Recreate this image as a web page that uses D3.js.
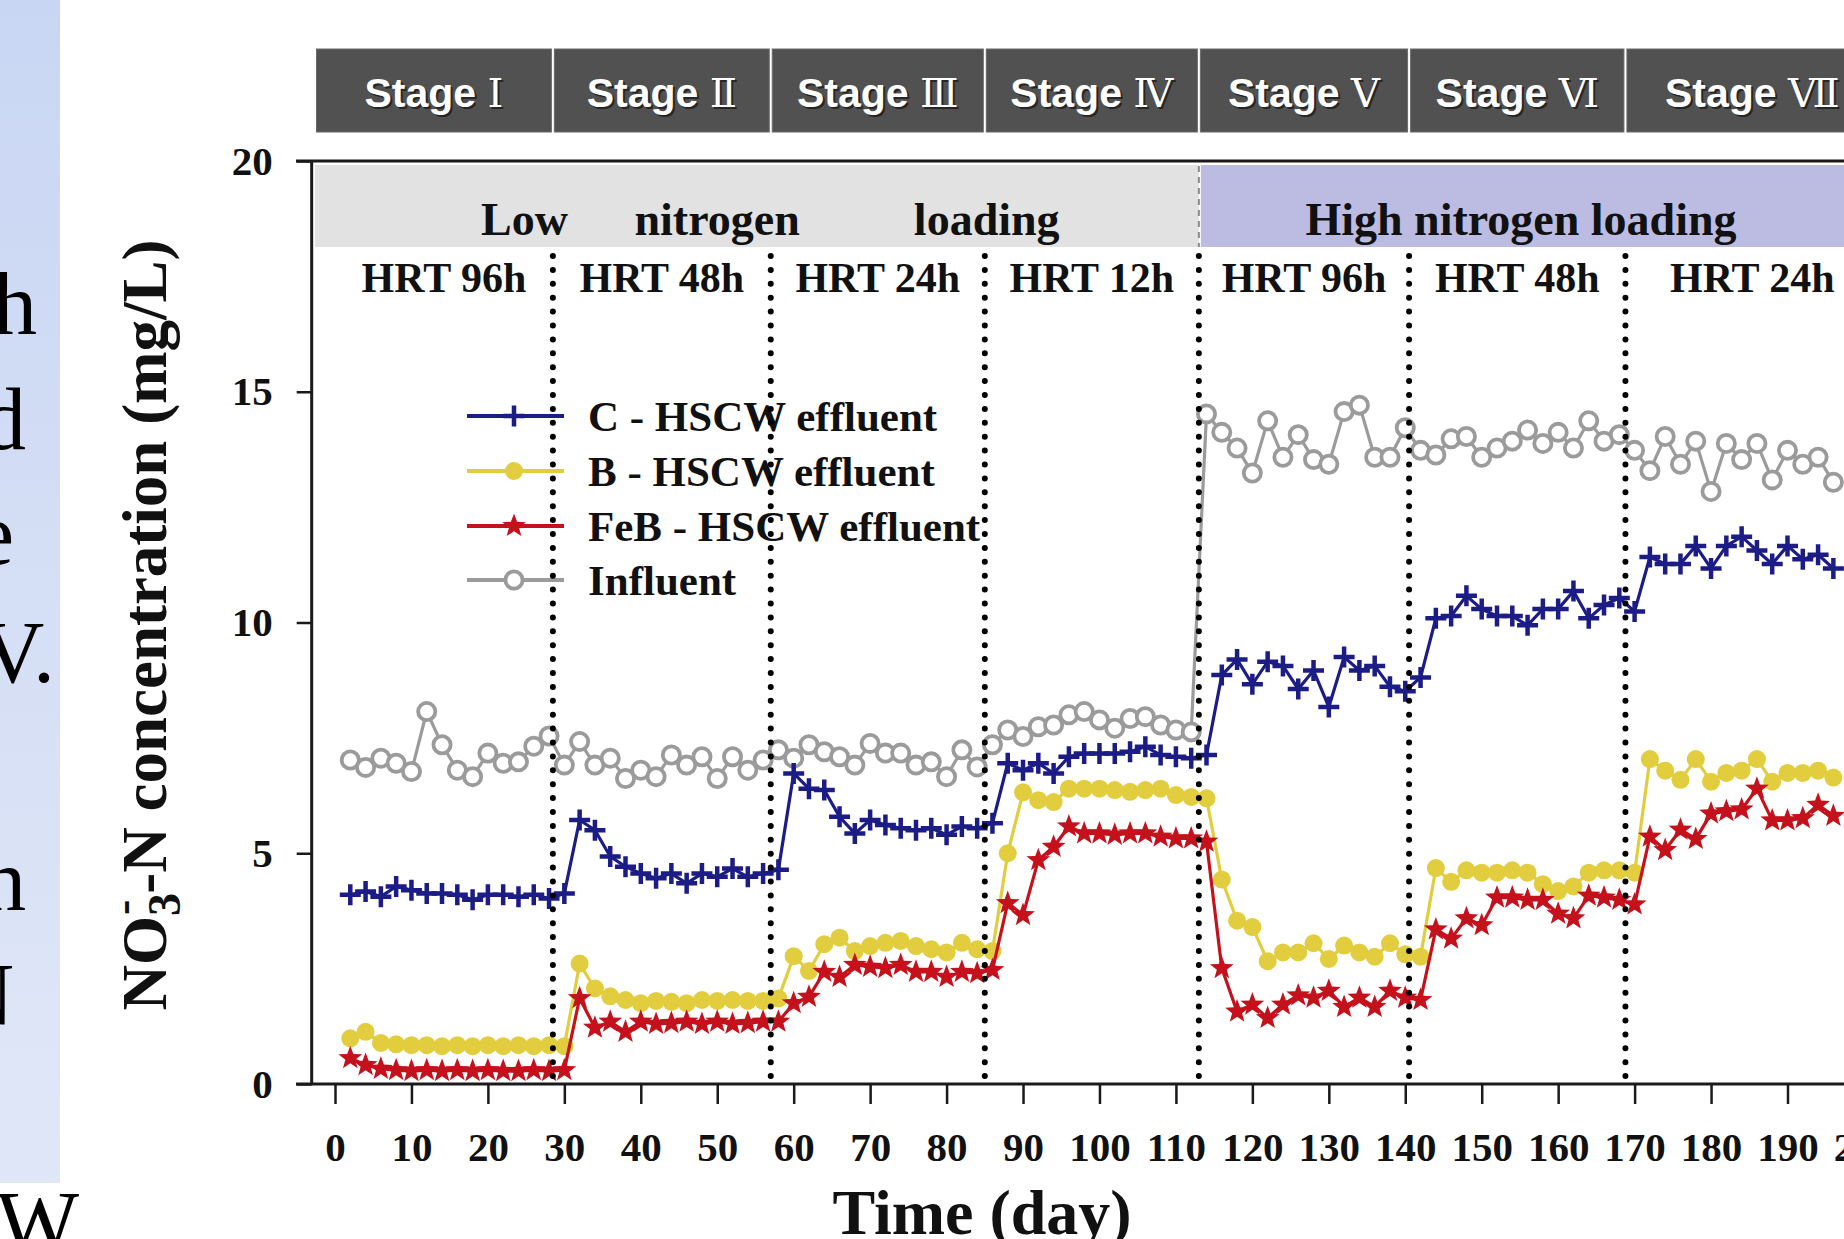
<!DOCTYPE html>
<html><head><meta charset="utf-8">
<script src="https://cdn.jsdelivr.net/npm/d3@7"></script>
<style>html,body{margin:0;padding:0;background:#fff;overflow:hidden}</style>
</head><body><svg id="c" width="1844" height="1239"></svg>
<script>
// ---------------- data ----------------
const days = [2,4,6,8,10,12,14,16,18,20,22,24,26,28,30,
  32,34,36,38,40,42,44,46,48,50,52,54,56,58,
  60,62,64,66,68,70,72,74,76,78,80,82,84,86,
  88,90,92,94,96,98,100,102,104,106,108,110,112,114,
  116,118,120,122,124,126,128,130,132,134,136,138,140,142,
  144,146,148,150,152,154,156,158,160,162,164,166,168,170,
  172,174,176,178,180,182,184,186,188,190,192,194,196];

const cEffluent = [4.10,4.17,4.06,4.28,4.20,4.13,4.13,4.10,3.99,4.10,4.10,4.06,4.10,4.02,4.13,
  5.72,5.50,4.93,4.71,4.56,4.46,4.56,4.35,4.56,4.49,4.67,4.49,4.56,4.64,
  6.73,6.40,6.37,5.79,5.43,5.72,5.61,5.54,5.50,5.54,5.40,5.58,5.54,5.65,
  6.95,6.80,6.95,6.73,7.09,7.16,7.16,7.16,7.20,7.31,7.13,7.09,7.06,7.13,
  8.86,9.20,8.66,9.15,9.06,8.56,8.96,8.17,9.25,8.96,9.06,8.61,8.51,8.81,
  10.09,10.14,10.58,10.29,10.14,10.14,9.94,10.29,10.29,10.68,10.09,10.38,10.53,10.24,
  11.42,11.27,11.27,11.66,11.17,11.66,11.86,11.56,11.27,11.66,11.37,11.47,11.17];

const bEffluent = [0.99,1.13,0.89,0.86,0.84,0.84,0.82,0.84,0.82,0.84,0.82,0.84,0.82,0.84,0.82,
  2.61,2.07,1.90,1.82,1.75,1.80,1.78,1.75,1.82,1.80,1.82,1.80,1.80,1.85,
  2.77,2.45,3.03,3.17,2.88,2.99,3.06,3.10,2.99,2.92,2.85,3.06,2.92,2.88,
  5.00,6.32,6.15,6.11,6.40,6.40,6.40,6.37,6.33,6.37,6.40,6.26,6.22,6.19,
  4.43,3.54,3.40,2.66,2.85,2.85,3.05,2.71,3.00,2.85,2.76,3.05,2.81,2.76,
  4.68,4.38,4.63,4.58,4.58,4.63,4.58,4.33,4.18,4.28,4.58,4.63,4.63,4.58,
  7.04,6.79,6.59,7.04,6.55,6.74,6.79,7.04,6.55,6.74,6.74,6.79,6.64];

const febEffluent = [0.56,0.41,0.33,0.30,0.28,0.30,0.28,0.30,0.28,0.30,0.28,0.28,0.30,0.28,0.30,
  1.86,1.22,1.35,1.13,1.35,1.30,1.32,1.35,1.30,1.35,1.30,1.32,1.35,1.35,
  1.75,1.89,2.43,2.32,2.58,2.54,2.51,2.58,2.43,2.43,2.32,2.43,2.40,2.47,
  3.92,3.66,4.85,5.14,5.58,5.43,5.43,5.40,5.43,5.43,5.36,5.32,5.32,5.25,
  2.51,1.57,1.72,1.43,1.72,1.92,1.87,2.02,1.67,1.87,1.67,2.02,1.87,1.82,
  3.35,3.15,3.59,3.44,4.04,4.04,3.99,3.99,3.69,3.59,4.08,4.04,3.99,3.89,
  5.36,5.07,5.51,5.31,5.86,5.91,5.95,6.40,5.71,5.71,5.76,6.05,5.81];

const influent = [7.02,6.86,7.06,6.95,6.77,8.07,7.35,6.80,6.66,7.17,6.95,6.98,7.32,7.54,6.91,
  7.42,6.91,7.06,6.62,6.80,6.66,7.13,6.91,7.09,6.62,7.09,6.80,7.02,7.24,
  7.06,7.35,7.20,7.09,6.91,7.38,7.17,7.17,6.91,6.98,6.66,7.24,6.87,7.35,
  7.67,7.53,7.74,7.78,8.00,8.07,7.89,7.71,7.92,7.96,7.78,7.67,7.63,
  14.52,14.12,13.78,13.24,14.37,13.58,14.07,13.53,13.43,14.57,14.71,13.58,13.58,14.22,
  13.73,13.63,13.98,14.03,13.58,13.78,13.93,14.17,13.88,14.12,13.78,14.37,13.93,14.07,
  13.73,13.29,14.03,13.43,13.93,12.84,13.88,13.53,13.88,13.09,13.73,13.43,13.58,13.04];

const stageNumerals = ["I","Ⅱ","Ⅲ","Ⅳ","Ⅴ","Ⅵ","Ⅶ"];
const stageBounds = [0, 28.5, 57, 85, 113, 140.5, 168.8, 202];
const hrtLabels = ["HRT 96h","HRT 48h","HRT 24h","HRT 12h","HRT 96h","HRT 48h","HRT 24h"];
const lowLoadingWords = ["Low","nitrogen","loading"];
const highLoadingLabel = "High nitrogen loading";
const xTicks = [0,10,20,30,40,50,60,70,80,90,100,110,120,130,140,150,160,170,180,190,200];
const yTicks = [0,5,10,15,20];
const seriesNames = ["C - HSCW effluent","B - HSCW effluent","FeB - HSCW effluent","Influent"];
const sideFragments = ["h","d","e","V.","h","N","W"];

// ---------------- layout ----------------
const W = 1844, H = 1239;
const svg = d3.select("#c");
const serif = "'Liberation Serif','Times New Roman',serif";
const sans = "'Liberation Sans',Arial,sans-serif";

const x = d3.scaleLinear().domain([0,190]).range([335,1787.5]);
const y = d3.scaleLinear().domain([0,20]).range([1084,161]);
const axisX = x(-3.05);

const colors = {c:"#1c1c86", b:"#e2cd3e", feb:"#c5111b", inf:"#9b9b9b"};

// left slide panel
const defs = svg.append("defs");
const g0 = defs.append("linearGradient").attr("id","side").attr("x1",0).attr("x2",0).attr("y1",0).attr("y2",1);
g0.append("stop").attr("offset","0").attr("stop-color","#c9d6f3");
g0.append("stop").attr("offset","1").attr("stop-color","#e0e7f7");
svg.append("rect").attr("x",0).attr("y",0).attr("width",60).attr("height",1183).attr("fill","url(#side)");
const sidePos = [[37,334],[26,449],[14,564],[55,682],[26,910],[14,1024],[79,1252]];
sideFragments.forEach((t,i)=>{
  svg.append("text").attr("x",sidePos[i][0]).attr("y",sidePos[i][1])
    .attr("text-anchor","end").attr("font-family",serif).attr("font-size",88)
    .attr("fill","#000").text(t);
});

// stage header
stageNumerals.forEach((n,i)=>{
  const x0 = i===0 ? 315 : x(stageBounds[i]);
  const x1 = x(stageBounds[i+1]);
  svg.append("rect").attr("x",x0+1.5).attr("y",49).attr("width",x1-x0-3).attr("height",83)
    .attr("fill","#515151").attr("stroke","#6a6a6a").attr("stroke-width",1);
  const cx = (x0+x1)/2;
  [["#262626",2,2],["#ffffff",0,0]].forEach(([col,dx,dy])=>{
    const t = svg.append("text").attr("x",cx+dx).attr("y",107+dy).attr("text-anchor","middle")
      .attr("fill",col);
    t.append("tspan").attr("font-family",sans).attr("font-weight","bold").attr("font-size",41).text("Stage ");
    t.append("tspan").attr("font-family","'DejaVu Serif','Liberation Serif',serif").attr("font-weight","normal")
      .attr("font-size",40).text(n);
  });
});

// loading bands
const xSplit = x(stageBounds[4]);
svg.append("rect").attr("x",315).attr("y",165).attr("width",xSplit-315).attr("height",82).attr("fill","#e2e2e2");
svg.append("rect").attr("x",xSplit+2).attr("y",165).attr("width",W-xSplit).attr("height",82).attr("fill","#bcbce2");
const lowFrac = [0.237,0.455,0.76];
lowLoadingWords.forEach((w,i)=>{
  svg.append("text").attr("x",315+(xSplit-315)*lowFrac[i]).attr("y",235).attr("text-anchor","middle")
    .attr("font-family",serif).attr("font-weight","bold").attr("font-size",46).attr("fill","#111").text(w);
});
svg.append("text").attr("x",1521).attr("y",235).attr("text-anchor","middle")
  .attr("font-family",serif).attr("font-weight","bold").attr("font-size",46).attr("fill","#111").text(highLoadingLabel);

// HRT labels
hrtLabels.forEach((t,i)=>{
  svg.append("text").attr("x",x((stageBounds[i]+stageBounds[i+1])/2)).attr("y",292).attr("text-anchor","middle")
    .attr("font-family",serif).attr("font-weight","bold").attr("font-size",42).attr("fill","#111").text(t);
});

// frame lines
svg.append("line").attr("x1",296).attr("x2",W).attr("y1",y(20)).attr("y2",y(20)).attr("stroke","#1a1a1a").attr("stroke-width",3);
svg.append("line").attr("x1",296).attr("x2",W).attr("y1",y(0)).attr("y2",y(0)).attr("stroke","#1a1a1a").attr("stroke-width",3);
svg.append("line").attr("x1",axisX).attr("x2",axisX).attr("y1",y(20)).attr("y2",y(0)).attr("stroke","#1a1a1a").attr("stroke-width",3);

// axes
const yAxis = svg.append("g").attr("transform",`translate(${axisX},0)`)
  .call(d3.axisLeft(y).tickValues(yTicks).tickSize(15).tickSizeOuter(0).tickPadding(24));
const xAxis = svg.append("g").attr("transform",`translate(0,${y(0)})`)
  .call(d3.axisBottom(x).tickValues(xTicks).tickSize(20).tickSizeOuter(0).tickPadding(28));
[yAxis,xAxis].forEach(a=>{
  a.select(".domain").remove();
  a.selectAll(".tick line").attr("stroke","#1a1a1a").attr("stroke-width",2.5);
  a.selectAll(".tick text").attr("font-family",serif).attr("font-weight","bold").attr("font-size",41).attr("fill","#111");
});

// markers
function plus(sel,col){ sel.append("path").attr("d","M-10.5,0H10.5M0,-10.5V10.5").attr("stroke",col).attr("stroke-width",4.5).attr("fill","none"); }
function dot(sel,col){ sel.append("circle").attr("r",9).attr("fill",col); }
const starPath = (()=>{ let p=""; for(let k=0;k<10;k++){ const r=k%2?5.2:12.5; const a=-Math.PI/2+k*Math.PI/5; p+=(k?"L":"M")+(r*Math.cos(a)).toFixed(2)+","+(r*Math.sin(a)).toFixed(2);} return p+"Z"; })();
function star(sel,col){ sel.append("path").attr("d",starPath).attr("fill",col); }
function ring(sel,col){ sel.append("circle").attr("r",8.6).attr("fill","#fff").attr("stroke",col).attr("stroke-width",3.8); }

const series = [
  {vals:influent, col:colors.inf, mk:ring},
  {vals:cEffluent, col:colors.c, mk:plus},
  {vals:bEffluent, col:colors.b, mk:dot},
  {vals:febEffluent, col:colors.feb, mk:star}
];
const line = d3.line().x((v,i)=>x(days[i])).y(v=>y(v));
series.forEach(s=>{
  svg.append("path").attr("d",line(s.vals)).attr("fill","none").attr("stroke",s.col).attr("stroke-width",3.2);
  const g = svg.append("g");
  s.vals.forEach((v,i)=>{ const m=g.append("g").attr("transform",`translate(${x(days[i])},${y(v)})`); s.mk(m,s.col); });
});

// legend
const legendOrder = [
  {col:colors.c, mk:plus},{col:colors.b, mk:dot},{col:colors.feb, mk:star},{col:colors.inf, mk:ring}
];
const legRows = [416,471,526,580];
legendOrder.forEach((l,i)=>{
  const gy = legRows[i];
  svg.append("line").attr("x1",467).attr("x2",564).attr("y1",gy).attr("y2",gy).attr("stroke",l.col).attr("stroke-width",4);
  const m = svg.append("g").attr("transform",`translate(514,${gy})`); l.mk(m,l.col);
  svg.append("text").attr("x",588).attr("y",gy+15).attr("font-family",serif).attr("font-weight","bold")
    .attr("font-size",43).attr("fill","#111").text(seriesNames[i]);
});

// dotted stage separators
stageBounds.slice(1,7).forEach(b=>{
  svg.append("line").attr("x1",x(b)).attr("x2",x(b)).attr("y1",256).attr("y2",y(0))
    .attr("stroke","#000").attr("stroke-width",6).attr("stroke-linecap","round").attr("stroke-dasharray","0 13.9");
});
svg.append("line").attr("x1",xSplit).attr("x2",xSplit).attr("y1",166).attr("y2",247)
  .attr("stroke","#8a8a8a").attr("stroke-width",2).attr("stroke-dasharray","6 5");

// axis titles
const yt = svg.append("text").attr("transform","translate(166,625) rotate(-90)").attr("text-anchor","middle")
  .attr("font-family",serif).attr("font-weight","bold").attr("font-size",63).attr("fill","#111");
yt.append("tspan").text("NO");
yt.append("tspan").attr("font-size",46).attr("dy",14).text("3");
yt.append("tspan").attr("font-size",46).attr("dx",-22).attr("dy",-42).text("-");
yt.append("tspan").attr("dy",28).attr("dx",6).text("-N concentration (mg/L)");

svg.append("text").attr("x",982).attr("y",1234).attr("text-anchor","middle")
  .attr("font-family",serif).attr("font-weight","bold").attr("font-size",64).attr("fill","#111").text("Time (day)");
</script></body></html>
